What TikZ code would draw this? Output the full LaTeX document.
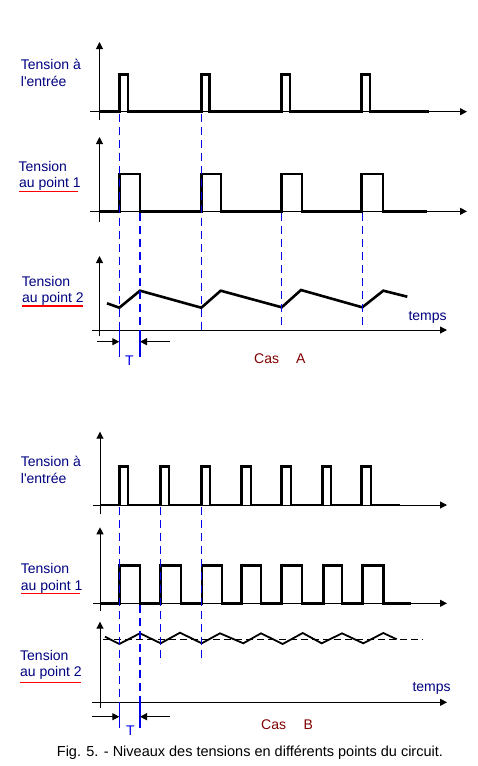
\documentclass[tikz,border=0pt]{standalone}
\usepackage{fontspec}
\setmainfont{Liberation Sans}
\usetikzlibrary{arrows.meta}
\definecolor{navyc}{RGB}{0,0,128}
\definecolor{maroonc}{RGB}{128,0,0}
\definecolor{guideblue}{RGB}{0,0,235}
\begin{document}
\begin{tikzpicture}[x=1pt,y=-1pt,
  axis/.style={line width=1pt,-{Triangle[width=7pt,length=7pt]}},
  sig/.style={line width=2.6pt,line join=miter},
  zig/.style={line width=1.8pt,line join=miter},
  guide/.style={guideblue,line width=1.3pt,dash pattern=on 8pt off 5pt},
  tmark/.style={guideblue,line width=1.3pt},
  tarrow/.style={line width=1pt,-{Triangle[width=7pt,length=7pt]}},
  lbl/.style={navyc,font=\fontsize{14}{16}\selectfont,anchor=base west,inner sep=0pt},
  caslbl/.style={maroonc,font=\fontsize{14}{16}\selectfont,anchor=base west,inner sep=0pt},
  tlbl/.style={guideblue,font=\fontsize{14}{16}\selectfont,anchor=base,inner sep=0pt},
  uline/.style={red,line width=1.3pt}]
\useasboundingbox[fill=white] (0,0) rectangle (477,766);

%% ================= CASE A =================
% panel 1
\draw[axis] (99.5,120) -- (99.5,42);
\draw[axis] (90,111.7) -- (467,111.7);
\draw[sig] (100,111.7) foreach \a/\b in {119.3/128,201.3/209.7,281.7/290,361.7/370}
  { -- (\a,111.7) -- (\a,74.3) -- (\b,74.3) -- (\b,111.7)} -- (429,111.7);
\node[lbl] (a1l1) at (20.7,69) {Tension à};
\node[lbl] (a1l2) at (20.7,86) {l\textquotesingle entrée};
% panel 2
\draw[axis] (99.5,221.7) -- (99.5,137);
\draw[axis] (90,211.3) -- (467,211.3);
\draw[sig] (100,211.3) foreach \a/\b in {119.3/140,201.3/221,281.7/302,361.7/383}
  { -- (\a,211.3) -- (\a,174) -- (\b,174) -- (\b,211.3)} -- (427,211.3);
\node[lbl] (a2l1) at (18.5,171.7) {Tension};
\node[lbl] (a2l2) at (19,187.7) {au point 1};
\draw[uline] (19,191.7) -- (78,191.7);
% panel 3
\draw[axis] (99.5,336) -- (99.5,256);
\draw[axis] (92,330) -- (447,330);
\draw[sig] (107,303.3) -- (119.3,307.7) -- (140,290.7) -- (201.3,307.7) -- (220.7,290.7)
  -- (281.7,307.3) -- (301,290) -- (362.3,307.3) -- (383.3,290.7) -- (407.3,296.7);
\node[lbl] (a3l1) at (21.7,286) {Tension};
\node[lbl] (a3l2) at (22,302.7) {au point 2};
\draw[uline] (22,306) -- (83,306);
\node[lbl] (atemps) at (408.3,320) {temps};
% guides
\draw[guide] (119.3,113.5) -- (119.3,330);
\draw[guide] (201.3,113.5) -- (201.3,330);
\draw[guide] (140,213) -- (140,330);
\draw[guide] (281.7,213) -- (281.7,330);
\draw[guide] (362.3,213) -- (362.3,330);
\draw[tmark] (119.3,330) -- (119.3,356.7);
\draw[tmark] (140,330) -- (140,356.7);
\draw[tarrow] (97,341.7) -- (119.3,341.7);
\draw[tarrow] (170,341.7) -- (140,341.7);
\node[tlbl] (aT) at (129.3,365) {T};
\node[caslbl] (acas) at (254,363.3) {Cas};
\node[caslbl] (aA) at (296,363.3) {A};

%% ================= CASE B =================
% panel 1
\draw[axis] (100,514) -- (100,431.7);
\draw[axis] (93,505) -- (447,505);
\draw[sig] (100,505) foreach \a/\b in {119.3/128,160.7/169,201.7/210,241.7/251,281.7/291,322.3/331,361.7/371}
  { -- (\a,505) -- (\a,466.7) -- (\b,466.7) -- (\b,505)} -- (400,505);
\node[lbl] (b1l1) at (20.7,466.7) {Tension à};
\node[lbl] (b1l2) at (20.7,483.3) {l\textquotesingle entrée};
% panel 2
\draw[axis] (100,610.7) -- (100,527.3);
\draw[axis] (93,603.3) -- (447,603.3);
\draw[sig] (100,603.3) foreach \a/\b in {119.3/140,160.7/181,202/222,241.7/261,281.7/302,323.7/342,362.7/383.3}
  { -- (\a,603.3) -- (\a,565.7) -- (\b,565.7) -- (\b,603.3)} -- (411,603.3);
\node[lbl] (b2l1) at (20.7,573.3) {Tension};
\node[lbl] (b2l2) at (20.7,590) {au point 1};
\draw[uline] (21,593.7) -- (80,593.7);
% panel 3
\draw[axis] (100,708) -- (100,621.7);
\draw[axis] (92,702.3) -- (447,702.3);
\draw[line width=1pt,dash pattern=on 7pt off 4pt] (103,639.3) -- (423,639.3);
\draw[zig] (105,636.7) -- (119.3,644) -- (140,633.3) -- (160.7,643.3) -- (180,632.7)
  -- (201.7,643.3) -- (220,633.3) -- (243.3,643.3) -- (261,633.3) -- (282.7,644)
  -- (302.7,633) -- (321.7,643.3) -- (342,633.3) -- (363.3,643.3) -- (383.3,633)
  -- (396.7,639.3);
\node[lbl] (b3l1) at (20,660.7) {Tension};
\node[lbl] (b3l2) at (20,676.7) {au point 2};
\draw[uline] (20,682.7) -- (81,682.7);
\node[lbl] (btemps) at (412.3,691) {temps};
% guides
\draw[guide] (119.3,507) -- (119.3,702.3);
\draw[guide] (160.7,507) -- (160.7,663);
\draw[guide] (201.7,507) -- (201.7,663);
\draw[guide] (140,605) -- (140,702.3);
\draw[tmark] (119.3,702.3) -- (119.3,728.3);
\draw[tmark] (140,702.3) -- (140,728.3);
\draw[tarrow] (92,716.7) -- (119.3,716.7);
\draw[tarrow] (170,716.7) -- (140,716.7);
\node[tlbl] (bT) at (130.5,735) {T};
\node[caslbl] (bcas) at (261,729) {Cas};
\node[caslbl] (bB) at (303.3,729) {B};

%% caption
\node[anchor=base west,inner sep=0pt,font=\fontsize{14.5}{17}\selectfont] (cap) at (56.7,756.7)
  {Fig. 5. - Niveaux des tensions en différents points du circuit.};
\end{tikzpicture}
\end{document}
